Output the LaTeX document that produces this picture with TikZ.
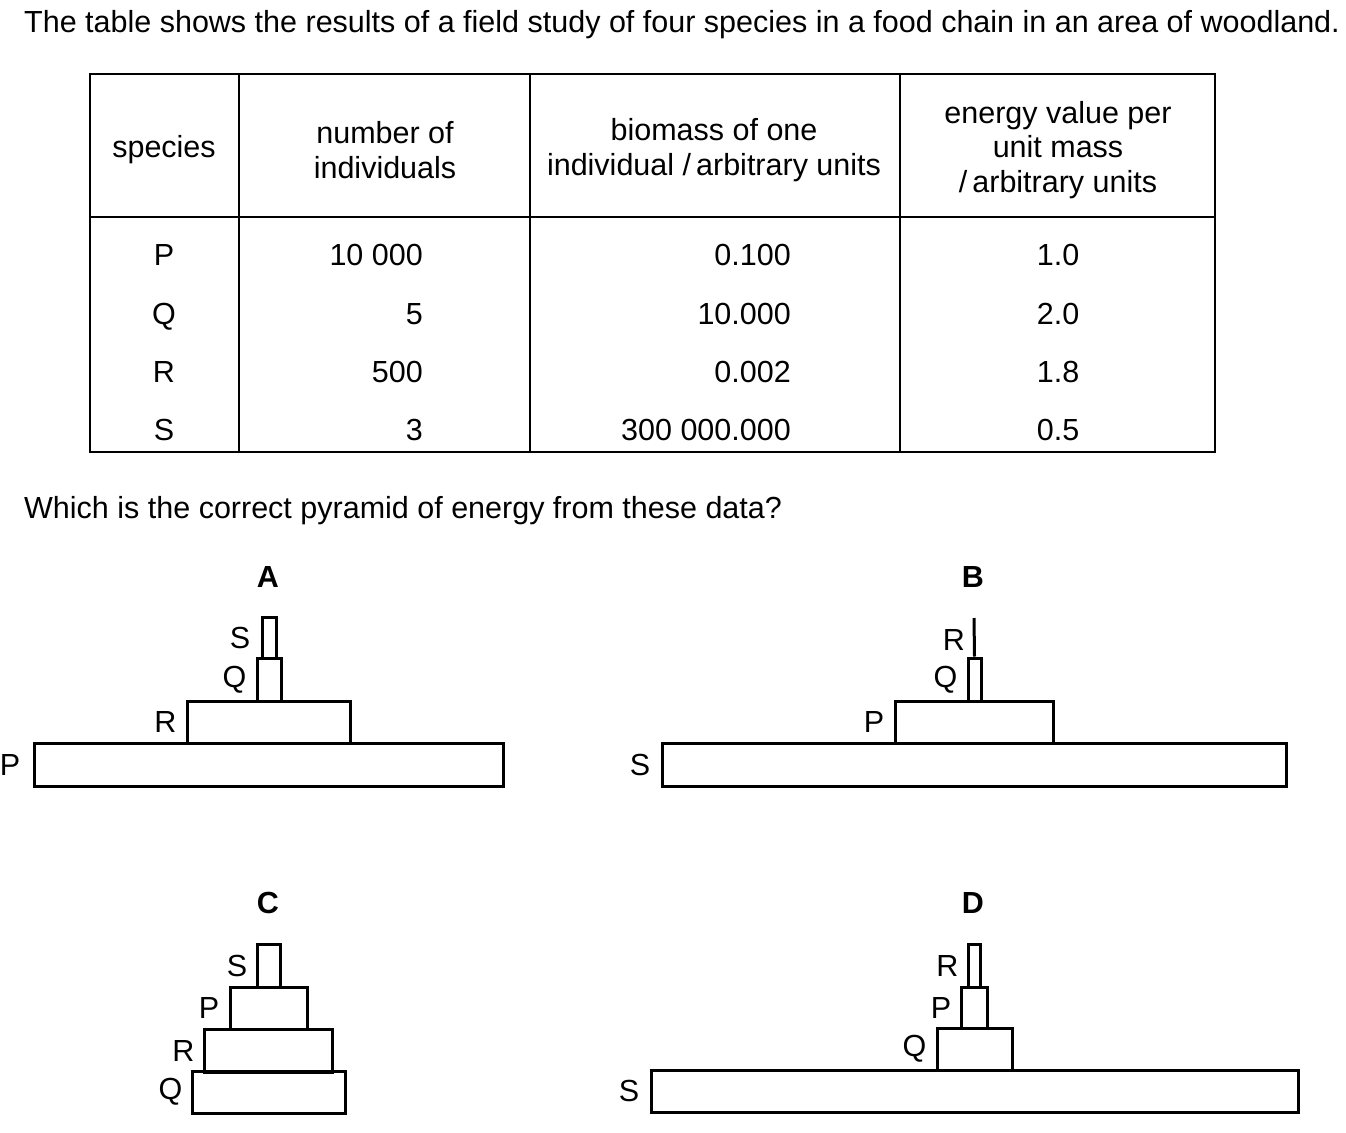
\documentclass[tikz,border=0pt]{standalone}
\usepackage{fontspec}
\setmainfont{Liberation Sans}
\begin{document}
\begin{tikzpicture}[x=1pt,y=-1pt,
  txt/.style={inner sep=0pt,font=\fontsize{30.5}{34.5}\selectfont},
  hdr/.style={txt,align=center},
  lbl/.style={txt,anchor=east},
  ttl/.style={txt,font=\fontsize{30.5}{34.5}\selectfont\bfseries},
  grid/.style={line width=2.5pt},
  bar/.style={draw,line width=3pt,rectangle,inner sep=0pt}]
\useasboundingbox (0,0) rectangle (1346,1132);
% title
\node[txt,anchor=base west] (title) at (24,33) {The table shows the results of a field study of four species in a food chain in an area of woodland.};
% table
\coordinate (tl) at (90,74);
\coordinate (br) at (1215,452);
\draw[grid] (tl) rectangle (br);
\draw[grid] (90,217) -- (1215,217);
\draw[grid] (239,74) -- (239,452);
\draw[grid] (530,74) -- (530,452);
\draw[grid] (900,74) -- (900,452);
\node[hdr] (h1) at (164,150) {species};
\node[hdr] (h2) at (385,150) {number of\\individuals};
\node[hdr] (h3) at (714,150) {biomass of one\\individual /\,arbitrary units};
\node[hdr] (h4) at (1058,150) {energy value per\\unit mass\\/\,arbitrary units};
% rows
\foreach \y/\s/\n/\b/\e [count=\i] in {265/P/10 000/0.100/1.0, 324/Q/5/10.000/2.0, 382/R/500/0.002/1.8, 440/S/3/300 000.000/0.5}{
  \node[txt,anchor=base] (sp\i) at (164,\y) {\s};
  \node[txt,anchor=base east] (nu\i) at (423,\y) {\n};
  \node[txt,anchor=base east] (bm\i) at (791,\y) {\b};
  \node[txt,anchor=base] (en\i) at (1058,\y) {\e};
}
\node[txt,anchor=base west] (question) at (24,518) {Which is the correct pyramid of energy from these data?};
% Pyramid A
\node[ttl,anchor=base] (tA) at (268,587) {A};
\node[bar,minimum width=469,minimum height=43] (aP) at (268.5,764.5) {};
\node[bar,minimum width=163,minimum height=42] (aR) at (268.5,722) {};
\node[bar,minimum width=24,minimum height=43] (aQ) at (269,679.5) {};
\node[bar,minimum width=14,minimum height=41] (aS) at (269,637.5) {};
\node[lbl] (laP) at ([xshift=-12pt]aP.west) {P};
\node[lbl] (laR) at ([xshift=-9pt]aR.west) {R};
\node[lbl] (laQ) at ([xshift=-9pt]aQ.west) {Q};
\node[lbl] (laS) at ([xshift=-10pt]aS.west) {S};
% Pyramid B
\node[ttl,anchor=base] (tB) at (973,587) {B};
\node[bar,minimum width=624,minimum height=43] (bS) at (974,764.5) {};
\node[bar,minimum width=158,minimum height=42] (bP) at (974,722) {};
\node[bar,minimum width=13,minimum height=43] (bQ) at (974.5,679.5) {};
\coordinate (bRtop) at (974,618);
\draw[line width=3pt] (bQ.north) -- (bRtop);
\coordinate (bRmid) at (974,640);
\node[lbl] (lbS) at ([xshift=-10pt]bS.west) {S};
\node[lbl] (lbP) at ([xshift=-9pt]bP.west) {P};
\node[lbl] (lbQ) at ([xshift=-9pt]bQ.west) {Q};
\node[lbl] (lbR) at ([xshift=-9pt]bRmid) {R};
% Pyramid C
\node[ttl,anchor=base] (tC) at (268,913) {C};
\node[bar,minimum width=153,minimum height=42] (cQ) at (268.5,1092) {};
\node[bar,minimum width=128,minimum height=43] (cR) at (268,1050.5) {};
\node[bar,minimum width=77,minimum height=42] (cP) at (268.5,1008) {};
\node[bar,minimum width=23,minimum height=43] (cS) at (268.5,965.5) {};
\node[lbl] (lcQ) at ([xshift=-8pt]cQ.west) {Q};
\node[lbl] (lcR) at ([xshift=-8pt]cR.west) {R};
\node[lbl] (lcP) at ([xshift=-9pt]cP.west) {P};
\node[lbl] (lcS) at ([xshift=-8pt]cS.west) {S};
% Pyramid D
\node[ttl,anchor=base] (tD) at (973,913) {D};
\node[bar,minimum width=647,minimum height=42] (dS) at (974.5,1091) {};
\node[bar,minimum width=75,minimum height=42] (dQ) at (974.5,1049) {};
\node[bar,minimum width=26,minimum height=41] (dP) at (974,1007.5) {};
\node[bar,minimum width=12,minimum height=43] (dR) at (974,965.5) {};
\node[lbl] (ldS) at ([xshift=-10pt]dS.west) {S};
\node[lbl] (ldQ) at ([xshift=-9pt]dQ.west) {Q};
\node[lbl] (ldP) at ([xshift=-8pt]dP.west) {P};
\node[lbl] (ldR) at ([xshift=-8pt]dR.west) {R};
\end{tikzpicture}
\end{document}
